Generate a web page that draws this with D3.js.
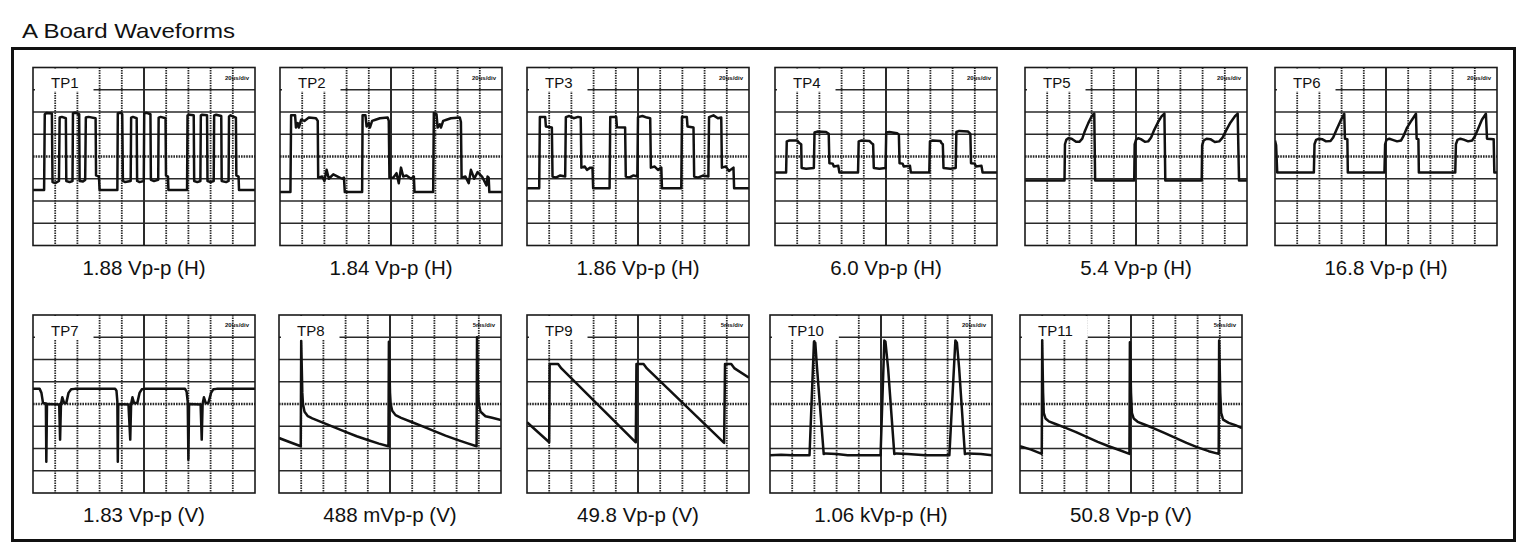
<!DOCTYPE html>
<html>
<head>
<meta charset="utf-8">
<title>A Board Waveforms</title>
<script src="https://d3js.org/d3.v7.min.js"></script>
<style>
  body { margin: 0; background: #fff; }
  text { font-family: "Liberation Sans", Arial, Helvetica, sans-serif; fill: #111; }
  .grid line { stroke: #2a2a2a; }
  .trace { fill: none; stroke: #111; stroke-width: 2.5px; stroke-linejoin: round; }
</style>
</head>
<body>
<div id="chart"></div>
<script>
// probe names, readings and scope timebase
var labels = ["TP1", "TP2", "TP3", "TP4", "TP5", "TP6", "TP7", "TP8", "TP9", "TP10", "TP11"];
var captions = ["1.88 Vp-p (H)", "1.84 Vp-p (H)", "1.86 Vp-p (H)", "6.0 Vp-p (H)", "5.4 Vp-p (H)", "16.8 Vp-p (H)",
                "1.83 Vp-p (V)", "488 mVp-p (V)", "49.8 Vp-p (V)", "1.06 kVp-p (H)", "50.8 Vp-p (V)"];
var timebase = ["20us/div", "20us/div", "20us/div", "20us/div", "20us/div", "20us/div",
                "20us/div", "5ms/div", "5ms/div", "20us/div", "5ms/div"];

// traces: [time div, volt div] (10 x 8 divisions, 0 at centre line)
var tp1 = [[0,-1.5],[0.5,-1.5],[0.53,1.9],[0.6,1.95],[0.85,1.93],[0.88,-1.15],[1.0,-1.2],[1.17,-1.1],[1.2,1.75],[1.3,1.78],[1.48,1.72],
  [1.5,-1.1],[1.65,-1.15],[1.78,-1.1],[1.8,1.95],[1.9,1.97],[2.08,1.9],[2.1,-1.1],[2.25,-1.12],[2.35,-1.05],[2.38,1.75],[2.5,1.78],
  [2.82,1.72],[2.84,-0.85],[2.97,-0.9],[3.0,-1.5],[3.8,-1.5],[3.82,1.95],[3.95,1.97],[4.02,1.9],[4.05,-1.1],[4.15,-1.15],[4.4,-1.1],
  [4.42,1.75],[4.5,1.78],[4.67,1.72],[4.69,-1.1],[4.8,-1.15],[4.99,-1.1],[5.01,1.95],[5.1,1.97],[5.29,1.9],[5.31,-1.05],[5.45,-1.1],
  [5.64,-1.05],[5.66,1.75],[5.75,1.78],[5.97,1.72],[5.99,-0.85],[6.08,-0.9],[6.1,-1.5],[6.94,-1.5],[6.96,1.85],[7.05,1.88],[7.24,1.85],
  [7.26,-1.1],[7.4,-1.15],[7.54,-1.1],[7.56,1.85],[7.62,1.88],[7.84,1.85],[7.86,-1.1],[8.0,-1.15],[8.14,-1.1],[8.16,1.85],[8.25,1.88],
  [8.48,1.82],[8.5,-1.1],[8.7,-1.15],[8.81,-1.1],[8.83,1.8],[8.9,1.85],[9.14,1.75],[9.16,-0.85],[9.26,-0.9],[9.28,-1.5],[10,-1.5]];

var tp2 = [[0,-1.6],[0.47,-1.6],[0.5,1.85],[0.68,1.85],[0.72,1.3],[0.8,1.5],[0.85,1.3],[0.95,1.65],[1.1,1.6],[1.3,1.75],[1.62,1.72],
  [1.7,1.6],[1.72,-0.95],[1.9,-0.9],[2.0,-1.1],[2.1,-0.6],[2.2,-1.0],[2.4,-0.8],[2.6,-0.9],[2.8,-1.0],[2.88,-0.95],[2.92,-1.6],
  [3.7,-1.6],[3.72,1.85],[3.85,1.85],[3.9,1.35],[4.0,1.5],[4.05,1.3],[4.15,1.6],[4.3,1.65],[4.5,1.72],[4.85,1.75],[4.9,1.6],
  [4.93,-0.95],[5.1,-0.95],[5.25,-0.75],[5.35,-1.2],[5.45,-0.5],[5.55,-0.9],[5.7,-0.85],[5.9,-1.0],[6.03,-0.9],[6.06,-1.6],
  [6.9,-1.6],[6.93,1.95],[7.05,1.9],[7.1,1.3],[7.2,1.45],[7.25,1.3],[7.35,1.6],[7.5,1.65],[7.7,1.72],[8.1,1.75],[8.15,1.55],
  [8.18,-0.95],[8.35,-0.9],[8.5,-1.2],[8.6,-0.6],[8.75,-1.0],[8.9,-0.7],[9.1,-0.9],[9.3,-1.3],[9.35,-0.9],[9.4,-0.95],[9.43,-1.6],[10,-1.6]];

var tp3 = [[0,-1.43],[0.55,-1.43],[0.58,1.77],[0.82,1.77],[0.85,1.35],[1.12,1.3],[1.15,-0.9],[1.3,-0.95],[1.5,-0.85],[1.72,-0.9],
  [1.75,1.77],[1.9,1.82],[2.1,1.72],[2.3,1.78],[2.42,1.75],[2.45,-0.5],[2.6,-0.45],[2.7,-0.6],[2.85,-0.5],[2.95,-0.5],[2.98,-1.43],
  [3.72,-1.43],[3.75,1.77],[4.02,1.77],[4.05,1.32],[4.42,1.3],[4.45,-0.9],[4.6,-0.95],[4.8,-0.85],[4.97,-0.9],[5.0,1.77],[5.2,1.82],
  [5.4,1.75],[5.55,1.72],[5.58,-0.5],[5.75,-0.45],[5.9,-0.6],[6.05,-0.5],[6.08,-1.43],[6.95,-1.43],[6.98,1.77],[7.2,1.77],[7.23,1.35],
  [7.5,1.3],[7.53,-0.9],[7.7,-0.95],[7.95,-0.85],[8.17,-0.9],[8.2,1.77],[8.4,1.85],[8.6,1.72],[8.75,1.75],[8.78,-0.5],[8.95,-0.45],
  [9.1,-0.65],[9.3,-0.5],[9.33,-1.43],[10,-1.43]];

var tp4 = [[0,-0.72],[0.5,-0.72],[0.53,0.68],[0.65,0.72],[1.0,0.72],[1.1,0.6],[1.18,0.55],[1.2,-0.52],[1.4,-0.55],[1.75,-0.52],
  [1.78,1.08],[1.9,1.12],[2.3,1.1],[2.42,1.02],[2.45,-0.3],[2.6,-0.32],[2.65,-0.45],[2.85,-0.42],[2.9,-0.72],[3.74,-0.72],[3.77,0.68],
  [3.9,0.72],[4.25,0.7],[4.35,0.6],[4.42,0.55],[4.45,-0.52],[4.7,-0.55],[4.98,-0.52],[5.01,1.08],[5.15,1.1],[5.5,1.05],[5.58,0.98],
  [5.61,-0.3],[5.75,-0.32],[5.8,-0.45],[6.08,-0.42],[6.12,-0.72],[6.95,-0.72],[6.98,0.68],[7.1,0.72],[7.45,0.7],[7.5,0.6],[7.56,0.55],
  [7.59,-0.52],[7.9,-0.55],[8.14,-0.52],[8.17,1.1],[8.3,1.15],[8.7,1.12],[8.8,1.02],[8.83,-0.3],[9.0,-0.32],[9.05,-0.45],[9.3,-0.42],
  [9.35,-0.72],[10,-0.72]];

var tp5 = [[0,-1.08],[1.78,-1.08],[1.8,0.55],[1.86,0.75],[1.95,0.82],[2.1,0.8],[2.3,0.66],[2.45,0.66],[2.58,0.8],[2.68,1.1],
  [2.85,1.5],[3.0,1.8],[3.12,1.93],[3.16,-1.08],[4.92,-1.08],[4.94,0.55],[5.0,0.75],[5.1,0.82],[5.22,0.78],[5.4,0.66],[5.55,0.68],
  [5.68,0.85],[5.8,1.15],[5.98,1.52],[6.15,1.8],[6.28,1.93],[6.32,-1.08],[7.96,-1.08],[7.98,0.5],[8.05,0.72],[8.18,0.8],[8.35,0.78],
  [8.55,0.65],[8.75,0.68],[8.9,0.85],[9.05,1.15],[9.25,1.52],[9.45,1.8],[9.58,1.93],[9.64,-1.08],[10,-1.08]];

var tp6 = [[0,0.72],[0.05,0.5],[0.1,-0.72],[1.75,-0.72],[1.78,0.55],[1.85,0.75],[1.98,0.8],[2.12,0.78],[2.3,0.68],[2.5,0.7],
  [2.62,0.85],[2.77,1.2],[2.95,1.6],[3.12,1.92],[3.15,0.8],[3.26,0.78],[3.28,-0.72],[4.93,-0.72],[4.96,0.55],[5.02,0.75],[5.15,0.8],
  [5.3,0.75],[5.5,0.68],[5.68,0.72],[5.78,0.9],[5.95,1.3],[6.15,1.62],[6.35,1.92],[6.38,0.8],[6.46,0.78],[6.48,-0.72],[8.12,-0.72],
  [8.15,0.55],[8.22,0.75],[8.35,0.8],[8.5,0.76],[8.7,0.68],[8.88,0.72],[9.0,0.9],[9.15,1.25],[9.32,1.65],[9.5,1.92],[9.55,0.8],
  [9.85,0.78],[9.88,-0.72],[10,-0.72]];

var tp7 = [[0,0.68],[0.3,0.68],[0.38,0.5],[0.45,0.05],[0.58,0.02],[0.6,-2.6],[0.63,0.0],[1.18,-0.02],[1.22,-1.6],[1.26,0.0],
  [1.32,0.3],[1.4,0.05],[1.5,0.05],[1.6,0.5],[1.72,0.66],[1.88,0.68],[3.7,0.68],[3.76,0.6],[3.8,0.1],[3.82,-2.6],[3.84,0.0],
  [4.3,-0.02],[4.38,-1.6],[4.42,0.0],[4.48,0.3],[4.55,0.05],[4.7,0.05],[4.8,0.5],[4.9,0.66],[5.05,0.68],[6.85,0.68],[6.92,0.55],
  [6.97,0.1],[7.0,-2.5],[7.03,0.0],[7.55,-0.02],[7.6,-1.6],[7.64,0.0],[7.7,0.3],[7.78,0.05],[7.9,0.05],[8.02,0.5],[8.12,0.66],
  [8.27,0.68],[10,0.68]];

var tp8 = [[0,-1.53],[0.5,-1.72],[0.98,-1.9],[1.0,2.83],[1.05,0.5],[1.08,0.0],[1.15,-0.35],[1.3,-0.55],[1.5,-0.65],[2.0,-0.85],
  [2.5,-1.05],[3.0,-1.25],[3.5,-1.45],[4.0,-1.62],[4.5,-1.78],[4.93,-1.9],[4.95,2.8],[5.0,0.5],[5.03,0.0],[5.1,-0.3],[5.25,-0.5],
  [5.5,-0.62],[6.0,-0.82],[6.5,-1.02],[7.0,-1.22],[7.5,-1.42],[8.0,-1.6],[8.5,-1.77],[8.9,-1.9],[8.92,3.0],[8.97,0.5],[9.0,0.0],
  [9.08,-0.35],[9.3,-0.55],[9.6,-0.62],[10,-0.72]];

var tp9 = [[0,-0.82],[1.0,-1.72],[1.02,1.8],[1.4,1.8],[1.55,1.6],[4.9,-1.72],[4.93,1.8],[5.25,1.8],[5.4,1.6],[8.88,-1.75],
  [8.92,1.8],[9.2,1.8],[9.35,1.6],[10,1.18]];

var tp10 = [[0,-2.3],[0.5,-2.28],[1.0,-2.3],[1.5,-2.3],[1.78,-2.3],[1.98,2.8],[2.04,2.75],[2.12,1.6],[2.42,-2.25],[2.5,-2.22],
  [3.0,-2.25],[3.5,-2.3],[4.0,-2.3],[4.98,-2.3],[5.15,2.85],[5.2,2.8],[5.32,1.6],[5.6,-2.25],[5.7,-2.22],[6.2,-2.25],[7.0,-2.3],
  [8.08,-2.3],[8.35,2.85],[8.42,2.75],[8.52,1.6],[8.78,-2.25],[8.9,-2.22],[9.5,-2.25],[10,-2.3]];

var tp11 = [[0,-1.9],[0.5,-2.05],[0.98,-2.24],[1.0,2.87],[1.04,0.5],[1.07,-0.4],[1.15,-0.65],[1.3,-0.78],[1.6,-0.9],[2.0,-1.05],
  [2.5,-1.25],[3.0,-1.48],[3.5,-1.7],[4.0,-1.9],[4.5,-2.08],[4.93,-2.24],[4.95,2.78],[5.0,0.5],[5.04,-0.4],[5.12,-0.65],[5.3,-0.8],
  [5.6,-0.92],[6.0,-1.08],[6.5,-1.3],[7.0,-1.52],[7.5,-1.75],[8.0,-1.95],[8.5,-2.12],[8.95,-2.24],[8.97,2.85],[9.02,0.5],[9.06,-0.4],
  [9.15,-0.7],[9.4,-0.85],[9.7,-0.95],[10,-1.08]];

var traces = [tp1, tp2, tp3, tp4, tp5, tp6, tp7, tp8, tp9, tp10, tp11];

var width = 1528, height = 556;
var panelW = 222, panelH = 178;
// where each screen sits on the page
var panelLeft = [33, 280, 527, 775, 1025, 1275, 33, 279, 527, 770, 1020];
var panelTop = [67.5, 67.5, 67.5, 67.5, 67.5, 67.5, 315, 315, 315, 315, 315];

var svg = d3.select("#chart")
    .append("svg")
    .attr("width", width)
    .attr("height", height);

svg.append("text")
    .attr("x", 22)
    .attr("y", 38)
    .style("font-size", "21px")
    .attr("textLength", 213)
    .attr("lengthAdjust", "spacingAndGlyphs")
    .text("A Board Waveforms");

svg.append("rect")
    .attr("x", 12.5)
    .attr("y", 48.5)
    .attr("width", 1502)
    .attr("height", 492)
    .attr("fill", "none")
    .attr("stroke", "#111")
    .attr("stroke-width", 3);

var x = d3.scaleLinear().domain([0, 10]).range([0, panelW]);
var y = d3.scaleLinear().domain([-4, 4]).range([panelH, 0]);

var line = d3.line()
    .x(function(d) { return x(d[0]); })
    .y(function(d) { return y(d[1]); });

var defs = svg.append("defs");
defs.append("clipPath").attr("id", "screen")
  .append("rect")
    .attr("width", panelW)
    .attr("height", panelH);

var panels = svg.selectAll("g.panel")
    .data(traces)
    .enter().append("g")
    .attr("class", "panel")
    .attr("transform", function(d, i) { return "translate(" + panelLeft[i] + "," + panelTop[i] + ")"; });

panels.each(function(d, i) {
  var g = d3.select(this);
  var grid = g.append("g").attr("class", "grid");

  grid.selectAll("line.h")
      .data(d3.range(-3, 4))
      .enter().append("line")
      .attr("x1", 0).attr("x2", panelW)
      .attr("y1", function(v) { return y(v); })
      .attr("y2", function(v) { return y(v); })
      .style("stroke-width", function(v) { return v === 0 ? 2.6 : 1.3; })
      .style("stroke-dasharray", function(v) { return v === 0 ? "1.6 1" : null; });

  grid.selectAll("line.v")
      .data(d3.range(1, 10))
      .enter().append("line")
      .attr("y1", 0).attr("y2", panelH)
      .attr("x1", function(t) { return x(t); })
      .attr("x2", function(t) { return x(t); })
      .style("stroke-width", function(t) { return t === 5 ? 2 : 1.8; })
      .style("stroke-dasharray", function(t) { return t === 5 ? null : "1.4 1.1"; });

  // white tab behind the probe name
  var name = g.append("text")
      .attr("x", 18)
      .attr("y", 20.5)
      .style("font-size", "15px")
      .text(labels[i]);
  var tw = name.node().getComputedTextLength();
  g.insert("rect", "text")
      .attr("x", 2)
      .attr("y", 1)
      .attr("width", tw + 31)
      .attr("height", 23)
      .attr("fill", "#fff");

  g.append("text")
      .attr("x", panelW - 6)
      .attr("y", 12)
      .attr("text-anchor", "end")
      .style("font-size", "6px")
      .style("font-weight", "bold")
      .text(timebase[i]);

  g.append("path")
      .datum(d)
      .attr("class", "trace")
      .attr("clip-path", "url(#screen)")
      .attr("d", line);

  g.append("rect")
      .attr("width", panelW)
      .attr("height", panelH)
      .attr("fill", "none")
      .attr("stroke", "#1a1a1a")
      .attr("stroke-width", 1.6);

  g.append("text")
      .attr("x", panelW / 2)
      .attr("y", panelH + 29)
      .attr("text-anchor", "middle")
      .style("font-size", "20.5px")
      .text(captions[i]);
});
</script>
</body>
</html>
